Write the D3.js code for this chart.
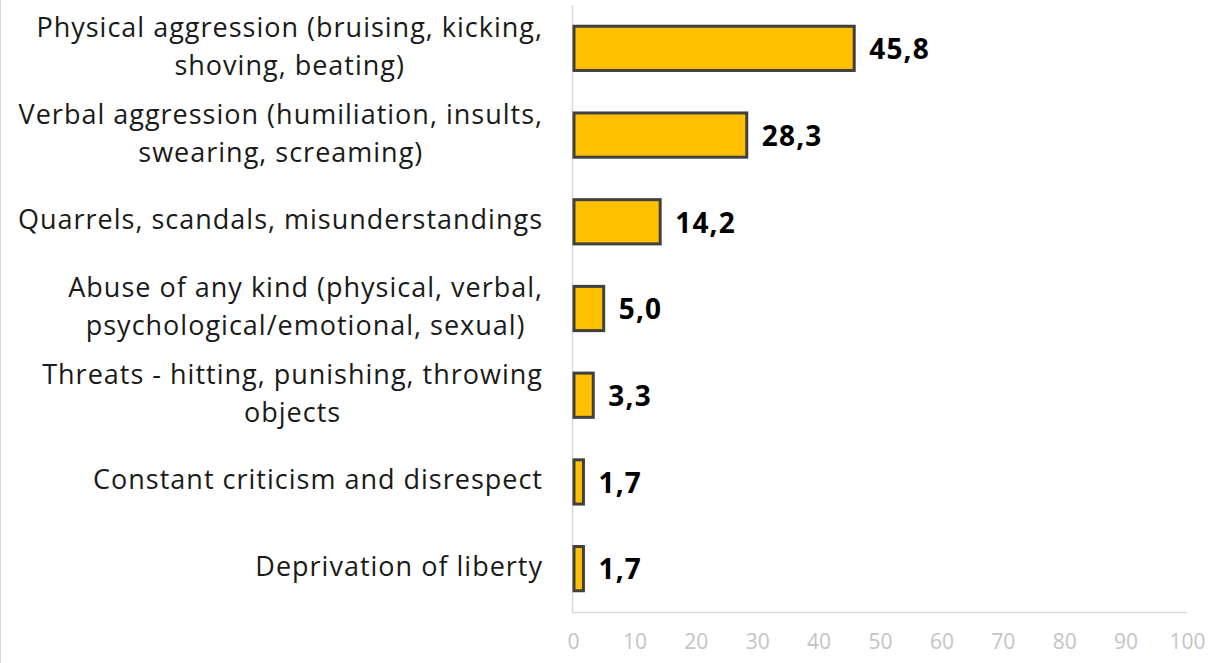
<!DOCTYPE html>
<html><head><meta charset="utf-8">
<script src="https://cdn.jsdelivr.net/npm/d3@7"></script>
<style>body{margin:0;background:#fff;}svg{display:block;}</style>
</head><body>
<svg id="c" width="1216" height="663"></svg>
<script>
const categories = [
  ["Physical aggression (bruising, kicking,", "shoving, beating)"],
  ["Verbal aggression (humiliation, insults,", "swearing, screaming)"],
  ["Quarrels, scandals, misunderstandings"],
  ["Abuse of any kind (physical, verbal,", "psychological/emotional, sexual)"],
  ["Threats - hitting, punishing, throwing", "objects"],
  ["Constant criticism and disrespect"],
  ["Deprivation of liberty"]
];
const values = [45.8, 28.3, 14.2, 5.0, 3.3, 1.7, 1.7];
const valueLabels = ["45,8", "28,3", "14,2", "5,0", "3,3", "1,7", "1,7"];
const ticks = [0,10,20,30,40,50,60,70,80,90,100];

const svg = d3.select("#c");
const font = "'Open Sans', sans-serif";
// outer border
svg.append("rect").attr("x",0.5).attr("y",-5).attr("width",1230).attr("height",680)
  .attr("fill","none").attr("stroke","#d9d9d9").attr("stroke-width",1);

const x = d3.scaleLinear().domain([0,100]).range([573,1187]);
const y = d3.scaleBand().domain(d3.range(values.length)).range([5,612]).paddingInner(0.49).paddingOuter(0.245);

// axes lines
svg.append("line").attr("x1",572.5).attr("x2",572.5).attr("y1",5).attr("y2",612).attr("stroke","#d9d9d9").attr("stroke-width",1.5);
svg.append("line").attr("x1",572).attr("x2",1187).attr("y1",612.5).attr("y2",612.5).attr("stroke","#d9d9d9").attr("stroke-width",1.5);

const xAxis = d3.axisBottom(x).tickValues(ticks).tickSize(0).tickPadding(0);
const gx = svg.append("g").attr("transform","translate(0,642)").call(xAxis);
gx.select(".domain").remove();
gx.selectAll("text").attr("font-family",font).attr("font-size",21).attr("fill","#c4c4c4").attr("dy","0.35em");

// bars
svg.selectAll("rect.bar").data(values).join("rect").attr("class","bar")
  .attr("x",x(0)+1).attr("y",(d,i)=>y(i)).attr("width",d=>x(d)-x(0)-1).attr("height",y.bandwidth())
  .attr("fill","#FFC000").attr("stroke","#404040").attr("stroke-width",3);

// value labels
svg.selectAll("text.val").data(values).join("text").attr("class","val")
  .attr("x",d=>x(d)+15).attr("y",(d,i)=>y(i)+y.bandwidth()/2+1).attr("dy","0.35em")
  .attr("font-family",font).attr("font-weight","bold").attr("font-size",28).attr("letter-spacing",1.2).attr("fill","#000")
  .text((d,i)=>valueLabels[i]);

// category labels
const lh = 38;
categories.forEach((lines,i)=>{
  const cy = y(i)+y.bandwidth()/2 - 2;
  const g = svg.append("g");
  const ts = lines.map((l,j)=>g.append("text").attr("font-family",font).attr("font-size",27).attr("letter-spacing",1).attr("fill","#1a1a1a")
    .attr("y", cy + (j-(lines.length-1)/2)*lh).attr("dy","0.35em").text(l));
  const widths = ts.map(t=>t.node().getComputedTextLength());
  const maxW = d3.max(widths);
  const right = 543;
  ts.forEach((t,j)=>t.attr("x", right - maxW/2).attr("text-anchor","middle"));
});
</script>
</body></html>
